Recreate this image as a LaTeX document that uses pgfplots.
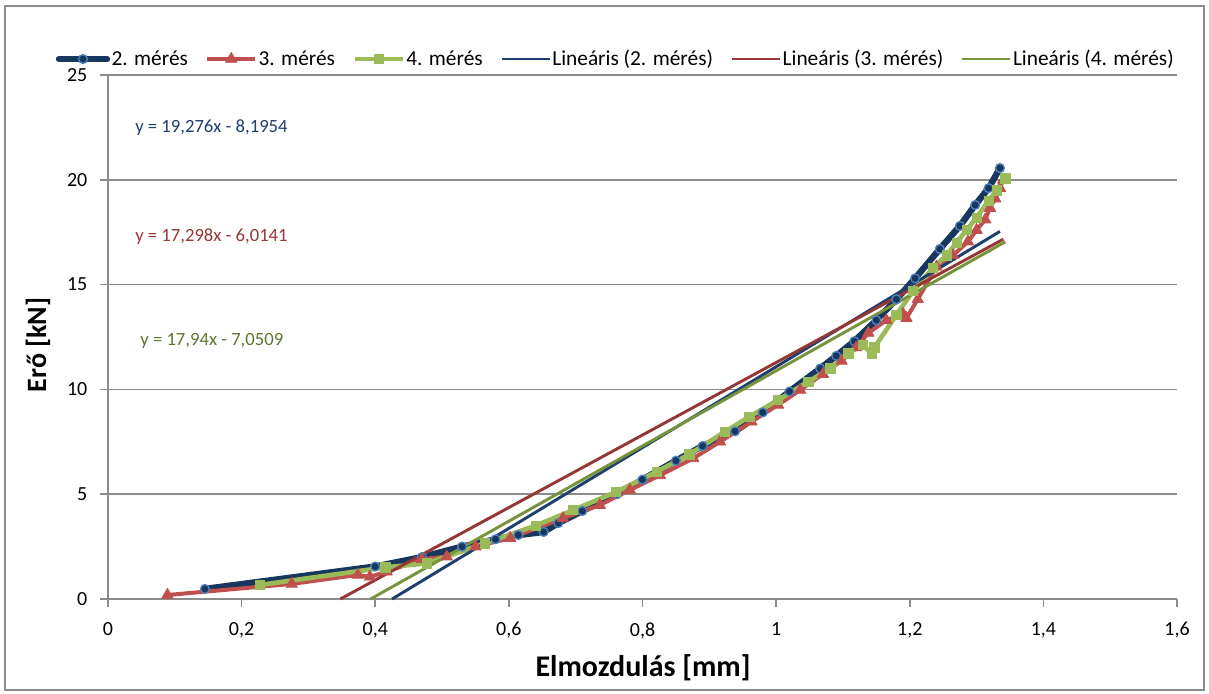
\documentclass[border=0pt]{standalone}
\usepackage{fontspec}
\setmainfont{Carlito}
\usepackage{pgfplots}
\pgfplotsset{compat=1.18}
\definecolor{navyS}{HTML}{17375E}
\definecolor{blueM}{HTML}{4F81BD}
\definecolor{redS}{HTML}{C0504D}
\definecolor{greenS}{HTML}{9BBB59}
\definecolor{navyT}{HTML}{1F3F6E}
\definecolor{redT}{HTML}{953735}
\definecolor{greenT}{HTML}{77933C}
\definecolor{eqG}{HTML}{5F7530}
\definecolor{gridc}{HTML}{8C8C8C}
\begin{document}
\begin{tikzpicture}
\path[use as bounding box] (-81pt,-70.5pt) rectangle (825.75pt,449.25pt);
\draw[gridc, line width=1pt] (-77.25pt,-68.25pt) rectangle (822pt,444.75pt);
\begin{axis}[
 at={(0pt,0pt)}, anchor=south west,
 scale only axis, width=801.75pt, height=393pt,
 xmin=0, xmax=1.6, ymin=0, ymax=25,
 xtick={0,0.2,0.4,0.6,0.8,1,1.2,1.4,1.6}, ytick={0,5,10,15,20,25},
 axis x line=bottom, axis y line=left,
 axis line style={gridc, line width=1.2pt, -},
 tick align=outside, major tick length=6pt,
 tick style={gridc, line width=1.2pt},
 ymajorgrids, grid style={gridc, line width=1.2pt},
 tick label style={font=\fontsize{15}{18}\selectfont, text=black},
 /pgf/number format/assume math mode=true,
 /pgf/number format/use comma,
 xticklabel style={anchor=north, yshift=-8pt},
 yticklabel style={anchor=east, xshift=-6pt},
 xlabel={Elmozdulás [mm]},
 xlabel style={font=\bfseries\fontsize{22.5}{26}\selectfont, at={(axis description cs:0.5005,-0.1317)}, anchor=center},
 ylabel={Erő [kN]},
 ylabel style={font=\bfseries\fontsize{21}{25}\selectfont, at={(axis description cs:-0.0655,0.485)}, anchor=center},
 clip=false,
 legend columns=6,
 legend style={at={(axis description cs:0.4747,1.0305)}, anchor=center, draw=none, fill=none,
   font=\fontsize{16}{19}\selectfont, nodes={inner xsep=1pt, inner ysep=1pt},
   /tikz/every even column/.append style={column sep=12pt}},
 legend image code/.code={\draw[mark repeat=2,mark phase=2] plot coordinates {(0pt,0pt) (18pt,0pt) (36pt,0pt)};},
]
% 2. meres
\addplot[navyS, line width=4.8pt, line join=round, line cap=round, mark=*, mark size=3.3pt,
  mark options={fill=navyS, draw=blueM, line width=1pt}] coordinates {
(0.145,0.48) (0.40,1.55) (0.47,2.0) (0.53,2.5) (0.58,2.85) (0.614,3.05) (0.652,3.2) (0.674,3.62)
(0.71,4.2) (0.762,5.0) (0.80,5.7) (0.85,6.6) (0.89,7.3) (0.9385,8.0) (0.98,8.9) (1.02,9.9)
(1.066,11.0) (1.09,11.6) (1.117,12.3) (1.15,13.3) (1.18,14.3) (1.208,15.3) (1.245,16.7)
(1.275,17.8) (1.298,18.8) (1.318,19.6) (1.335,20.56)};
\addlegendentry{2. mérés}
% 3. meres
\addplot[redS, line width=3pt, line join=round, mark=triangle*, mark size=5pt,
  mark options={fill=redS, draw=redS, line width=0.5pt}] coordinates {
(0.089,0.19) (0.275,0.72) (0.374,1.15) (0.392,1.06) (0.417,1.3) (0.47,1.9) (0.507,2.02) (0.55,2.5)
(0.602,2.9) (0.681,3.85) (0.736,4.48) (0.781,5.2) (0.826,5.9) (0.876,6.71) (0.916,7.5) (0.963,8.46)
(1.003,9.26) (1.036,9.97) (1.07,10.73) (1.098,11.36) (1.12,12.0) (1.138,12.69) (1.165,13.3)
(1.19,13.6) (1.195,13.4) (1.212,14.3) (1.24,15.85) (1.265,16.4) (1.287,17.05) (1.30,17.6)
(1.313,18.1) (1.32,18.65) (1.328,19.1) (1.335,19.6) (1.34,20.0)};
\addlegendentry{3. mérés}
% 4. meres
\addplot[greenS, line width=3.5pt, line join=round, mark=square*, mark size=3.5pt,
  mark options={fill=greenS, draw=greenS, line width=0.5pt}] coordinates {
(0.2275,0.67) (0.415,1.51) (0.477,1.70) (0.564,2.66) (0.64,3.5) (0.696,4.24) (0.76,5.1) (0.821,6.07)
(0.87,6.9) (0.9235,7.98) (0.96,8.7) (1.003,9.49) (1.048,10.37) (1.081,11.0) (1.108,11.72)
(1.130,12.12) (1.143,11.72) (1.147,12.0) (1.18,13.55) (1.205,14.7) (1.235,15.8) (1.255,16.4)
(1.27,17.0) (1.285,17.6) (1.30,18.2) (1.318,19.0) (1.33,19.5) (1.343,20.07)};
\addlegendentry{4. mérés}
% trendlines
\addplot[navyT, line width=2.2pt, mark=none] coordinates {(0.4252,0) (1.335,17.538)};
\addlegendentry{Lineáris (2. mérés)}
\addplot[redT, line width=2.2pt, mark=none] coordinates {(0.3477,0) (1.34,17.165)};
\addlegendentry{Lineáris (3. mérés)}
\addplot[greenT, line width=2.2pt, mark=none] coordinates {(0.3930,0) (1.343,17.042)};
\addlegendentry{Lineáris (4. mérés)}
\node[anchor=west, inner sep=0pt, text=navyT, font=\fontsize{14}{17}\selectfont] at (axis cs:0.0404,22.47) {y = 19,276x - 8,1954};
\node[anchor=west, inner sep=0pt, text=redT, font=\fontsize{14}{17}\selectfont] at (axis cs:0.0404,17.27) {y = 17,298x - 6,0141};
\node[anchor=west, inner sep=0pt, text=eqG, font=\fontsize{14}{17}\selectfont] at (axis cs:0.048,12.31) {y = 17,94x - 7,0509};
\end{axis}
\end{tikzpicture}
\end{document}
